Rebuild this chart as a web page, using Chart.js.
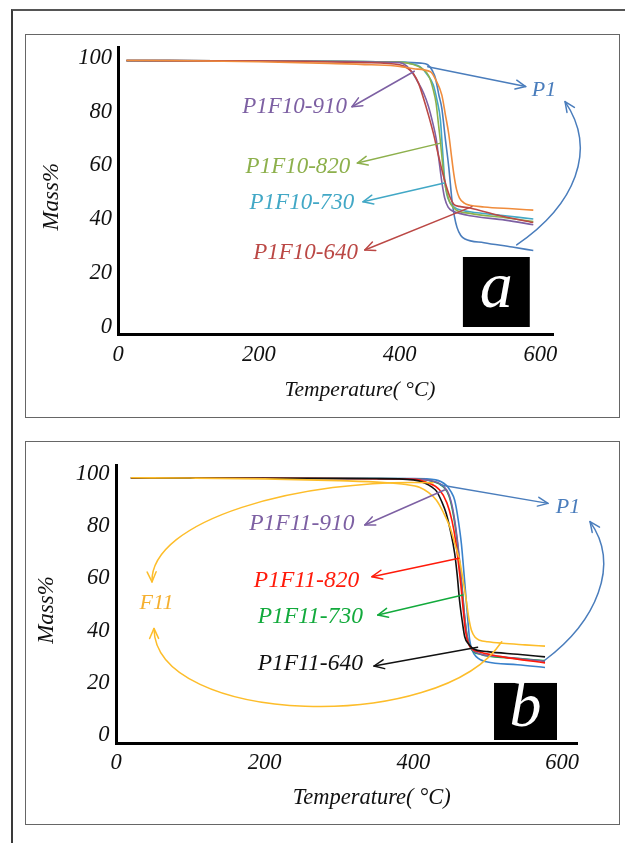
<!DOCTYPE html>
<html><head><meta charset="utf-8">
<script src="https://cdn.jsdelivr.net/npm/chart.js@4/dist/chart.umd.min.js"></script>
<style>
html,body{margin:0;padding:0;background:#fff;width:625px;height:843px;overflow:hidden;position:relative}
#outer{position:absolute;left:11px;top:9px;width:700px;height:900px;border-left:2px solid #3a3a3a;border-top:2px solid #555}
.box{position:absolute;left:25px;width:595px;height:384px;border:1.5px solid #666;box-sizing:border-box}
canvas{position:absolute;left:0}
</style></head>
<body>
<div id="outer"></div>
<div class="box" style="top:34px"></div>
<div class="box" style="top:441px"></div>
<canvas id="ca" width="625" height="420" style="top:0"></canvas>
<canvas id="cb" width="625" height="423" style="top:420px"></canvas>
<script>
// ---------- shared ticks ----------
const temperatureTicks = [0, 200, 400, 600];
const massTicks = [0, 20, 40, 60, 80, 100];

// ---------- panel a series (°C, mass %) ----------
const a_orange = [[12,99],[100,98.9],[200,98.5],[300,97.9],[360,97.4],[400,96.8],[420,95.9],[444,94.8],[452,91.5],[460,86.2],[465,79],[470,71.5],[474,63],[477,57],[481,51],[485,48],[492,46],[500,45.2],[520,44.6],[560,43.9],[590,43.4]];
const a_P1F10_640 = [[12,99],[200,98.8],[350,98.2],[400,97.4],[412,96],[420,94],[427,90.5],[434,85],[441,78.8],[448,72],[455,64],[461,57.5],[467,51.8],[472,48],[477,45.6],[485,44.8],[500,44.2],[540,41.5],[590,38.8]];
const a_P1F10_910 = [[12,99],[200,98.8],[400,98.2],[410,97],[418,94.5],[426,91],[434,87],[441,82],[447,76],[452,70],[456,62],[460,54],[464,48],[469,44.5],[476,43],[485,42.2],[500,41.3],[550,39.7],[590,38]];
const a_P1F10_820 = [[12,99],[200,98.8],[400,98.4],[420,97.5],[432,96],[442,93],[448,88],[452,83],[455,76],[458,69],[461,61],[464,54],[468,49],[472,46],[480,43.5],[500,42.2],[550,40.6],[590,39.2]];
const a_P1F10_730 = [[12,99],[200,98.8],[400,98.4],[420,97.6],[429,96.7],[440,93.5],[448,89.9],[453,84.5],[458,77],[461,66],[464,55],[467,49.5],[471,46.5],[477,44.6],[482,43.8],[500,42.8],[550,41.3],[590,40.1]];
const a_P1 = [[12,98.8],[200,98.7],[400,98.4],[430,98],[440,97.4],[447,95],[451,92.4],[456,86],[460,81.3],[465,70],[470,59.2],[474.5,47],[478,41],[481.6,37],[487,34],[493,32.7],[520,31.3],[560,29.7],[590,28.4]];

// ---------- panel b series ----------
const b_F11 = [[20,98.6],[100,98.5],[200,98.2],[300,97.5],[360,96.8],[390,96],[408,95],[420,93],[431,90],[440,85.5],[449,79.8],[456,73],[462,67],[467,59],[471,51.7],[475,44],[478,40.2],[483,37.5],[489,36.4],[500,35.8],[520,35.2],[550,34.6],[577,34.1]];
const b_P1F11_640 = [[20,98.5],[200,98.4],[350,98.3],[400,97.8],[415,96.6],[425,95],[431,93.5],[438,89.5],[444,85],[450,78],[455.5,69.6],[459,61],[462,51.7],[466,43],[469,37.7],[474,35],[480,33.2],[500,32],[540,31],[577,30]];
const b_P1F11_820 = [[20,98.5],[200,98.4],[400,98],[420,96.6],[435,94],[445,89],[452,82],[457,74],[460,67],[464,57],[467,48],[470,40],[474,35],[480,32.8],[489,31.9],[520,30],[577,27.7]];
const b_P1F11_910 = [[20,98.5],[200,98.4],[400,98.2],[425,97.4],[440,95.5],[448,92],[454,85],[459,75],[463,64],[466,54],[469,45],[472,38],[477,33.5],[485,31.6],[520,30],[577,28.3]];
const b_P1F11_730 = [[20,98.5],[200,98.4],[400,98.2],[425,97.3],[440,95.2],[448,91.5],[454,84],[459,74],[462,66],[466,55],[469,45],[473,37],[478,33],[490,31],[530,29.6],[577,28.6]];
const b_P1 = [[20,98.5],[200,98.4],[400,98.3],[430,97.8],[444,95.8],[450,93.5],[455.5,90],[460,83],[464.5,73.4],[468,62],[471,51.7],[473.5,43],[475.7,36.4],[479,32.5],[484.8,30],[498,28.1],[540,27],[577,25.9]];

// ---------- colours ----------
const C = {
  purple:'#7d60a3', green:'#8db04c', cyan:'#42a8c6', red:'#bb4845', blue:'#4a7dbc', orange:'#f08c3c',
  bred:'#ff1a0a', bgreen:'#12aa3c', black:'#111111', bblue:'#3a82cc', yellow:'#fdbd2a', fyellow:'#f5b030'
};
const FONT = 'Liberation Serif, Times New Roman, serif';

const annotPlugin = {
  id: 'annot',
  afterDraw(chart, args, o) {
    const {ctx} = chart, xs = chart.scales.x, ys = chart.scales.y;
    const P = (X, Y) => [xs.getPixelForValue(X), ys.getPixelForValue(Y)];
    const head = (tip, ang) => {
      const L = 11, s = 0.42;
      ctx.beginPath();
      ctx.moveTo(tip[0] - L*Math.cos(ang - s), tip[1] - L*Math.sin(ang - s));
      ctx.lineTo(tip[0], tip[1]);
      ctx.lineTo(tip[0] - L*Math.cos(ang + s), tip[1] - L*Math.sin(ang + s));
      ctx.stroke();
    };
    ctx.save();
    ctx.lineCap = 'round'; ctx.lineJoin = 'round';
    for (const b of o.boxes) {
      const p0 = P(b.x0, b.y1), p1 = P(b.x1, b.y0);
      ctx.fillStyle = '#000';
      ctx.fillRect(p0[0], p0[1], p1[0]-p0[0], p1[1]-p0[1]);
      ctx.fillStyle = '#fff';
      ctx.font = 'italic ' + b.size + 'px ' + FONT;
      ctx.textAlign = 'center'; ctx.textBaseline = 'alphabetic';
      ctx.fillText(b.letter, (p0[0]+p1[0])/2, (p0[1]+p1[1])/2 + b.size*0.22);
    }
    ctx.lineWidth = 1.5;
    for (const a of o.arrows) {
      const t = P(a.from[0], a.from[1]), h = P(a.to[0], a.to[1]);
      ctx.strokeStyle = a.color;
      ctx.beginPath(); ctx.moveTo(t[0], t[1]); ctx.lineTo(h[0], h[1]); ctx.stroke();
      head(h, Math.atan2(h[1]-t[1], h[0]-t[0]));
    }
    for (const c of o.curves) {
      const p = c.pts.map(q => P(q[0], q[1]));
      ctx.strokeStyle = c.color;
      ctx.beginPath(); ctx.moveTo(p[0][0], p[0][1]);
      ctx.bezierCurveTo(p[1][0], p[1][1], p[2][0], p[2][1], p[3][0], p[3][1]);
      ctx.stroke();
      head(p[3], Math.atan2(p[3][1]-p[2][1], p[3][0]-p[2][0]));
    }
    for (const t of o.texts) {
      const p = P(t.x, t.y);
      ctx.save();
      ctx.translate(p[0], p[1]);
      if (t.rot) ctx.rotate(t.rot);
      ctx.fillStyle = t.color;
      ctx.font = 'italic ' + t.size + 'px ' + FONT;
      ctx.textAlign = 'center'; ctx.textBaseline = 'middle';
      ctx.fillText(t.text, 0, 0);
      ctx.restore();
    }
    ctx.restore();
  }
};

function makeChart(id, series, cfg) {
  return new Chart(document.getElementById(id), {
    type: 'line',
    data: { datasets: series.map(s => ({
      label: s.name,
      data: s.pts.map(p => ({x: p[0], y: p[1]})),
      borderColor: s.color, borderWidth: 1.6, pointRadius: 0,
      cubicInterpolationMode: 'monotone', fill: false
    })) },
    options: {
      responsive: false, animation: false, devicePixelRatio: 1,
      layout: { padding: { left: 0, right: cfg.padRight, top: cfg.padTop, bottom: 0 } },
      plugins: { legend: { display: false }, tooltip: { enabled: false }, annot: cfg.annot },
      scales: {
        x: {
          type: 'linear', min: 0, max: cfg.xMax,
          afterFit: s => { s.height = cfg.xH; },
          afterBuildTicks: s => { s.ticks = temperatureTicks.map(v => ({value: v})); },
          grid: { display: false, drawTicks: false },
          border: { display: true, color: '#000', width: 3 },
          ticks: { padding: cfg.xPad, color: '#111', maxRotation: 0, autoSkip: false,
                   font: { family: FONT, style: 'italic', size: 22.5 } }
        },
        y: {
          type: 'linear', min: cfg.yMin, max: cfg.yMax,
          afterFit: s => { s.width = cfg.yW; },
          afterBuildTicks: s => { s.ticks = massTicks.map(v => ({value: v})); },
          grid: { display: false, drawTicks: false },
          border: { display: true, color: '#000', width: 3 },
          ticks: { padding: cfg.yPad, color: '#111',
                   font: { family: FONT, style: 'italic', size: 22.5 } }
        }
      }
    },
    plugins: [annotPlugin]
  });
}

// ---------- panel a ----------
makeChart('ca', [
  {name:'F10', pts:a_orange, color:C.orange},
  {name:'P1F10-640', pts:a_P1F10_640, color:C.red},
  {name:'P1F10-910', pts:a_P1F10_910, color:C.purple},
  {name:'P1F10-820', pts:a_P1F10_820, color:C.green},
  {name:'P1F10-730', pts:a_P1F10_730, color:C.cyan},
  {name:'P1', pts:a_P1, color:C.blue}
], {
  padRight: 72, padTop: 47, xH: 86, yW: 118, xMax: 618, yMin: -2.6, yMax: 104, xPad: 8, yPad: 6,
  annot: {
    boxes: [{x0:490, x1:585, y0:0, y1:26, letter:'a', size:66}],
    arrows: [
      {from:[421,95], to:[332.4,81.8], color:C.purple},
      {from:[458.5,68.3], to:[340.1,60.9], color:C.green},
      {from:[463.7,53.5], to:[348.1,46.5], color:C.cyan},
      {from:[502.9,44.7], to:[350.6,28.6], color:C.red},
      {from:[440,96.7], to:[579.2,89.3], color:C.blue}
    ],
    curves: [
      {pts:[[566.4,30.5],[649.3,45.3],[681.9,65.7],[635.1,83.7]], color:C.blue}
    ],
    texts: [
      {text:'P1F10-910', x:250.8, y:81.8, color:C.purple, size:23},
      {text:'P1F10-820', x:255.7, y:59.5, color:C.green, size:23},
      {text:'P1F10-730', x:261.3, y:46.1, color:C.cyan, size:23},
      {text:'P1F10-640', x:266.5, y:27.6, color:C.red, size:23},
      {text:'P1', x:605.2, y:88.0, color:C.blue, size:22},
      {text:'Mass%', x:-93.8, y:48.4, rot:-Math.PI/2, color:'#111', size:23},
      {text:'Temperature( °C)', x:343.8, y:-23.4, color:'#111', size:21.5}
    ]
  }
});

// ---------- panel b ----------
makeChart('cb', [
  {name:'F11', pts:b_F11, color:C.yellow},
  {name:'P1F11-640', pts:b_P1F11_640, color:C.black},
  {name:'P1F11-820', pts:b_P1F11_820, color:C.bred},
  {name:'P1F11-910', pts:b_P1F11_910, color:C.purple},
  {name:'P1F11-730', pts:b_P1F11_730, color:C.bgreen},
  {name:'P1', pts:b_P1, color:C.bblue}
], {
  padRight: 48, padTop: 45, xH: 100, yW: 116, xMax: 620, yMin: -3, yMax: 103.5, xPad: 7, yPad: 6.5,
  annot: {
    boxes: [{x0:508.4, x1:593.1, y0:-1.85, y1:20, letter:'b', size:64}],
    arrows: [
      {from:[441.7,93.9], to:[334.6,80.5], color:C.purple},
      {from:[461.3,67.8], to:[344.3,60.7], color:C.bred},
      {from:[466.4,53.7], to:[352.1,46.0], color:C.bgreen},
      {from:[486.3,33.7], to:[347,26.5], color:C.black},
      {from:[436.6,95.8], to:[581,88.8], color:C.blue}
    ],
    curves: [
      {pts:[[577,28.8],[645.6,43.4],[679.2,65.2],[637.5,81.8]], color:C.blue},
      {pts:[[426.6,96.7],[247.5,98.5],[45.7,82.4],[48.4,58.7]], color:C.yellow},
      {pts:[[518.7,35.8],[435.7,0.06],[52.5,3.9],[51.1,40.9]], color:C.yellow}
    ],
    texts: [
      {text:'P1F11-910', x:249.9, y:80.9, color:C.purple, size:23.5},
      {text:'P1F11-820', x:256.2, y:59.2, color:C.bred, size:23.5},
      {text:'P1F11-730', x:261.3, y:45.4, color:C.bgreen, size:23.5},
      {text:'P1F11-640', x:261.3, y:27.3, color:C.black, size:23.5},
      {text:'P1', x:607.9, y:87.5, color:C.blue, size:22},
      {text:'F11', x:54.5, y:50.6, color:C.fyellow, size:22},
      {text:'Mass%', x:-93.3, y:47.95, rot:-Math.PI/2, color:'#111', size:23},
      {text:'Temperature( °C)', x:343.9, y:-24.1, color:'#111', size:22.5}
    ]
  }
});
</script>
</body></html>
